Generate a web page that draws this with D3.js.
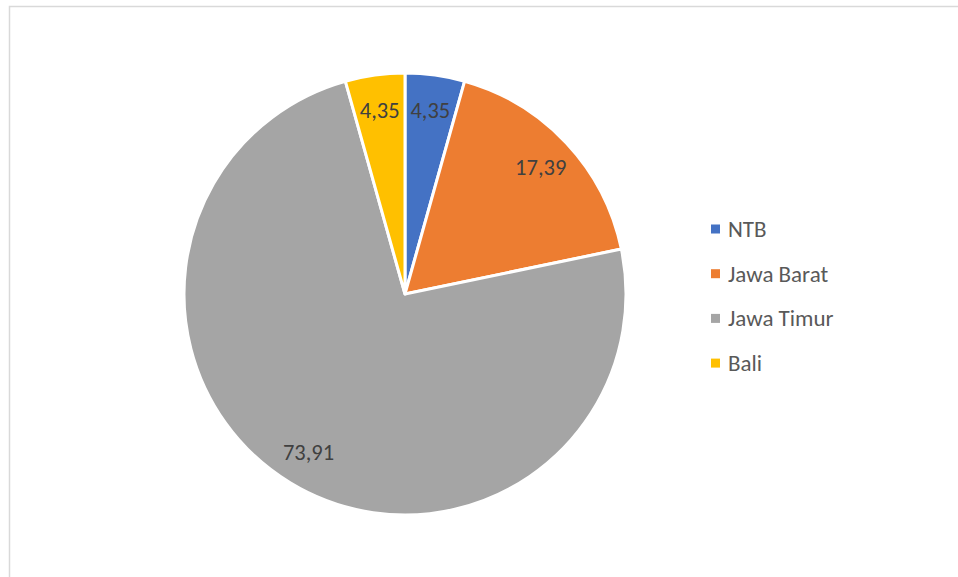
<!DOCTYPE html>
<html>
<head>
<meta charset="utf-8">
<script src="https://cdn.jsdelivr.net/npm/d3@7"></script>
<style>
  body { margin: 0; background: #fff; }
  text { font-family: Carlito, "Open Sans", "Liberation Sans", sans-serif; }
</style>
</head>
<body>
<div id="chart"></div>
<script>
let width = 958, height = 577;

let regions = ["NTB", "Jawa Barat", "Jawa Timur", "Bali"]
let shares = [4.35, 17.39, 73.91, 4.35]
let shareLabels = ["4,35", "17,39", "73,91", "4,35"]
let colors = ["#4472C4", "#ED7D31", "#A5A5A5", "#FFC000"]

let cx = 405, cy = 294, radius = 221;

let svg = d3.select("#chart")
    .append("svg")
    .attr("width", width)
    .attr("height", height);

// chart frame
svg.append("rect")
    .attr("x", 9.5).attr("y", 6.5)
    .attr("width", 980).attr("height", 600)
    .attr("fill", "none")
    .attr("stroke", "#d9d9d9")
    .attr("stroke-width", 1.5);

let pie = d3.pie().sort(null).value(function (d) { return d; });
let arcs = pie(shares);

let arc = d3.arc().innerRadius(0).outerRadius(radius);
let labelArc = d3.arc().innerRadius(radius * 0.84).outerRadius(radius * 0.84);

let g = svg.append("g")
    .attr("transform", "translate(" + cx + "," + cy + ")");

g.selectAll("path")
    .data(arcs)
    .enter()
    .append("path")
    .attr("d", arc)
    .attr("fill", function (d, i) { return colors[i]; })
    .attr("stroke", "#fff")
    .attr("stroke-width", 3)
    .attr("stroke-linejoin", "round");

g.selectAll("text.lbl")
    .data(arcs)
    .enter()
    .append("text")
    .attr("class", "lbl")
    .attr("transform", function (d) { return "translate(" + labelArc.centroid(d) + ")"; })
    .attr("text-anchor", "middle")
    .attr("dy", "0.35em")
    .attr("font-size", 22.5)
    .attr("fill", "#404040")
    .text(function (d, i) { return shareLabels[i]; });

// legend
let legend = svg.append("g")
    .attr("transform", "translate(711,229)");

let item = legend.selectAll("g")
    .data(regions)
    .enter()
    .append("g")
    .attr("transform", function (d, i) { return "translate(0," + (i * 44.7) + ")"; });

item.append("rect")
    .attr("x", 0).attr("y", -4.5)
    .attr("width", 9).attr("height", 9)
    .attr("fill", function (d, i) { return colors[i]; });

item.append("text")
    .attr("x", 17)
    .attr("dy", "0.35em")
    .attr("font-size", 23)
    .attr("fill", "#595959")
    .text(function (d) { return d; });
</script>
</body>
</html>
